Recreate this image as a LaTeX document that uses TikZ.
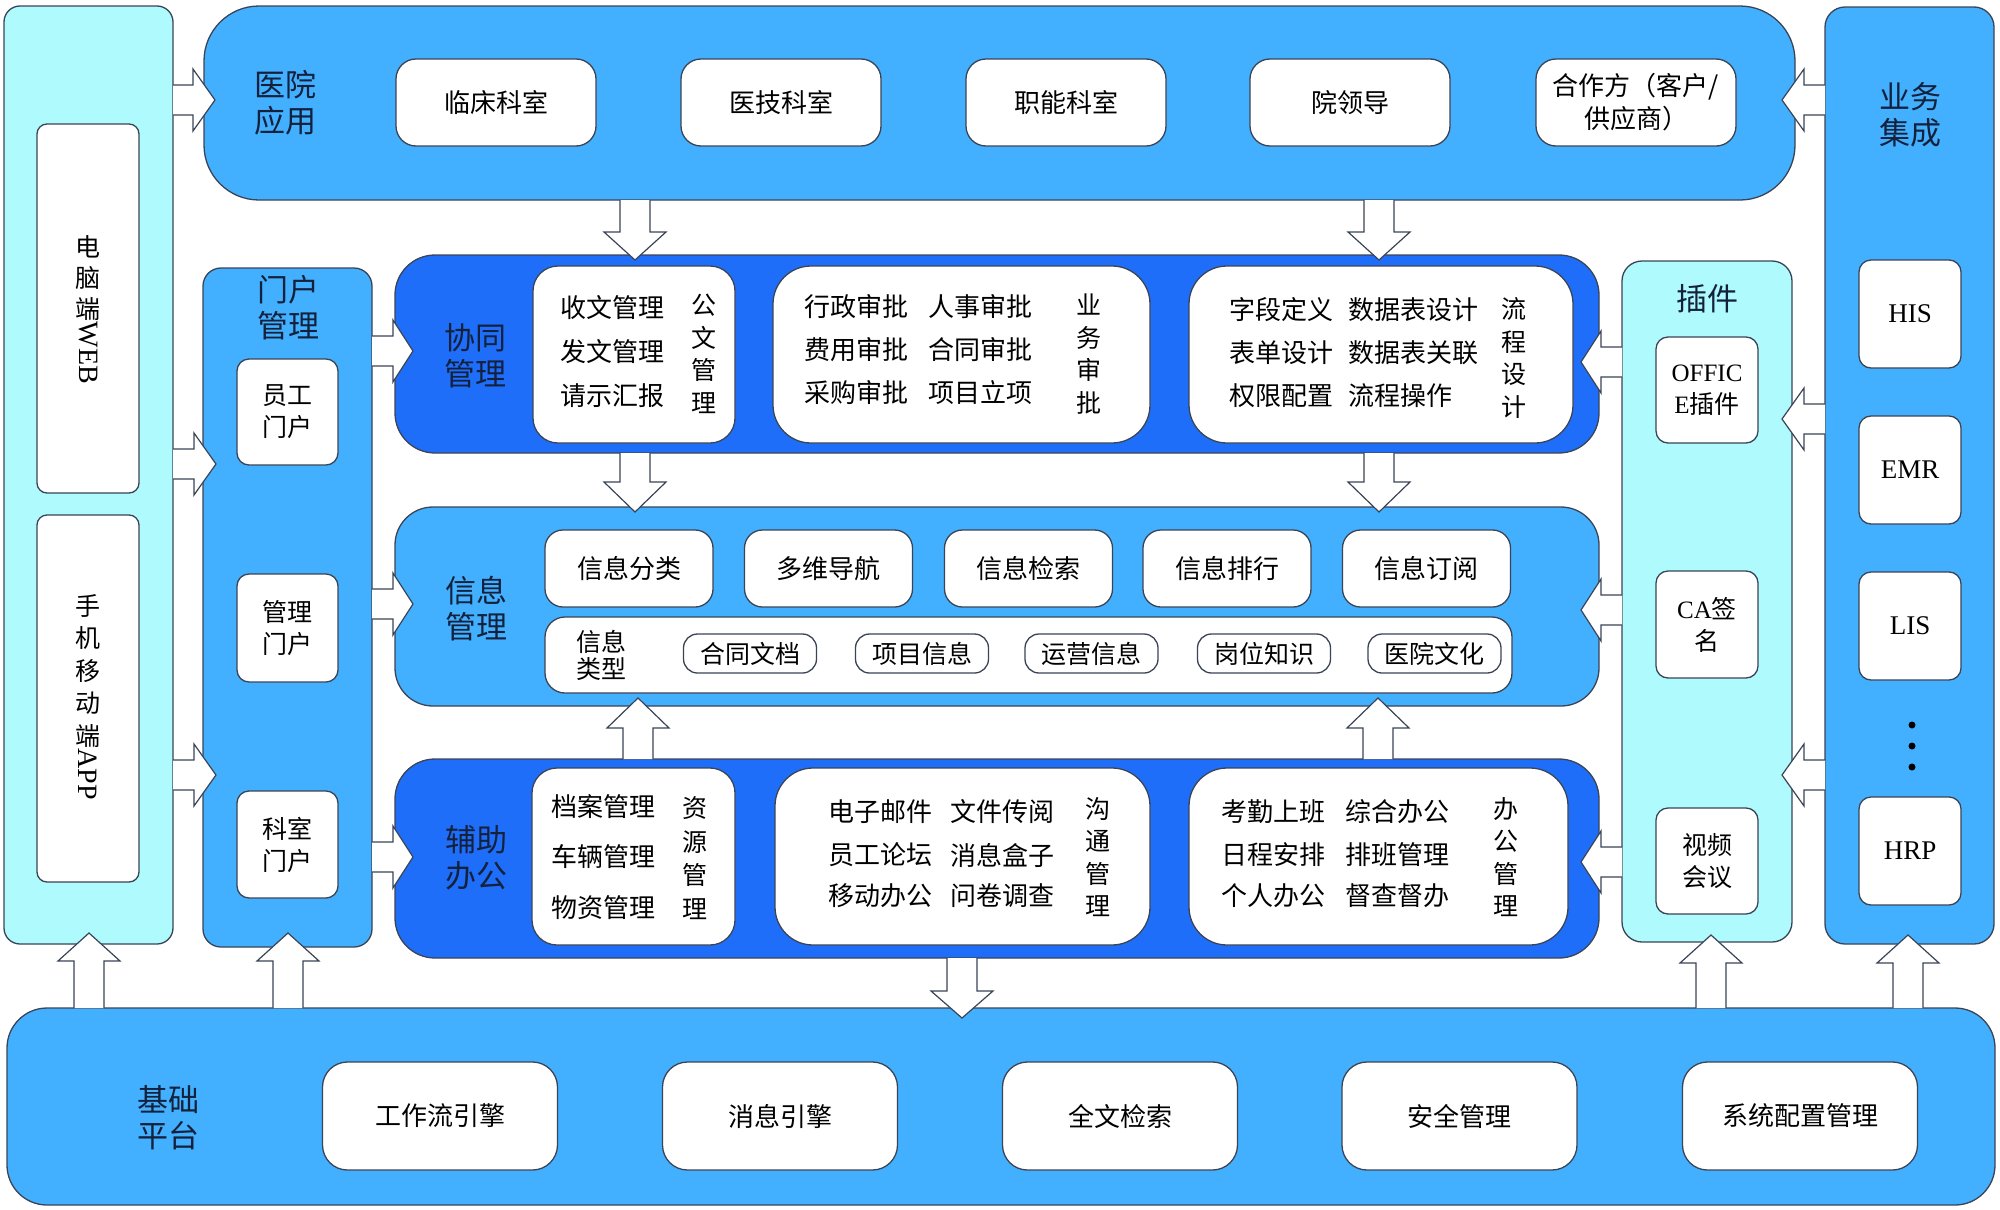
\documentclass[tikz,border=0pt]{standalone}
\usepackage{fontspec}
\setmainfont{Noto Sans CJK SC}
\newfontfamily\lat{Liberation Serif}
\usetikzlibrary{calc}
\definecolor{cyanl}{HTML}{AEFAFC}
\definecolor{midb}{HTML}{42B0FE}
\definecolor{darkb}{HTML}{1F6EFA}
\definecolor{linec}{HTML}{3A4456}
\definecolor{labc}{HTML}{14213D}
\newcommand\bigf{\fontsize{31}{36}\selectfont}
\newcommand\subf{\fontsize{26}{33}\selectfont}
\newcommand\smf{\fontsize{25}{32}\selectfont}
\newcommand\vtf{\fontsize{25}{32.5}\selectfont}
% block arrows: #1 tail centre, #2 total length, #3 head length
\newcommand\arrR[3]{\draw[barrow] #1 ++(0,-15) -- ++({#2-#3},0) -- ++(0,-16) -- ++(#3,31) -- ++(-#3,31) -- ++(0,-16) -- ++({#3-#2},0);}
\newcommand\arrL[3]{\draw[barrow] #1 ++(0,-15) -- ++({#3-#2},0) -- ++(0,-16) -- ++(-#3,31) -- ++(#3,31) -- ++(0,-16) -- ++({#2-#3},0);}
\newcommand\arrD[3]{\draw[barrow] #1 ++(-15,0) -- ++(0,{#2-#3}) -- ++(-16,0) -- ++(31,#3) -- ++(31,-#3) -- ++(-16,0) -- ++(0,{#3-#2});}
\newcommand\arrU[3]{\draw[barrow] #1 ++(-15,0) -- ++(0,{#3-#2}) -- ++(-16,0) -- ++(31,-#3) -- ++(31,#3) -- ++(-16,0) -- ++(0,{#2-#3});}
\begin{document}
\begin{tikzpicture}[x=1pt,y=-1pt,
  cbox/.style={draw=linec, line width=1.3pt, inner sep=0pt, outer sep=0pt, rectangle, rounded corners=#1},
  wbox/.style={cbox=#1, fill=white, align=center, font=\smf, text=black},
  lab/.style={inner sep=0pt, align=center, font=\bigf, text=labc},
  rowt/.style={inner sep=0pt, anchor=west, font=\subf, text=black},
  vt/.style={inner sep=0pt, align=center, font=\vtf, text=black},
  barrow/.style={draw=linec, line width=1.2pt, fill=white, line join=miter}]
\useasboundingbox (0,0) rectangle (2000,1210);

% ---------- left column: clients
\node[cbox=16, fill=cyanl, minimum width=169, minimum height=938] (lc) at (88.5,475) {};
\node[wbox=10, minimum width=102, minimum height=369] (web) at (88,308.5) {};
\node[wbox=10, minimum width=102, minimum height=367] (app) at (88,698.5) {};
\node[vt, font=\fontsize{25}{31}\selectfont] (webt) at (88,310) {电\\脑\\端\\\rotatebox[origin=c]{-90}{\lat\fontsize{28}{28}\selectfont WEB}};
\node[vt, font=\fontsize{25}{32.5}\selectfont] (appt) at (88,697) {手\\机\\移\\动\\端\\\rotatebox[origin=c]{-90}{\lat\fontsize{28}{28}\selectfont APP}};

% ---------- portal column
\node[cbox=18, fill=midb, minimum width=169, minimum height=679] (mh) at (287.5,607.5) {};
\node[lab] (mht) at (288,308) {门户\\管理};
\node[wbox=12, minimum width=101, minimum height=106] (yg) at (287.5,412) {员工\\门户};
\node[wbox=12, minimum width=101, minimum height=108] (gg) at (287.5,628) {管理\\门户};
\node[wbox=12, minimum width=101, minimum height=107] (kg) at (287.5,844.5) {科室\\门户};

% ---------- hospital applications
\node[cbox=55, fill=midb, minimum width=1591, minimum height=194] (hosp) at (999.5,103) {};
\node[lab] (hospt) at (285,103) {医院\\应用};
\node[wbox=20, minimum width=200, minimum height=87, font=\subf] (h1) at (496,102.5) {临床科室};
\node[wbox=20, minimum width=200, minimum height=87, font=\subf] (h2) at (781,102.5) {医技科室};
\node[wbox=20, minimum width=200, minimum height=87, font=\subf] (h3) at (1066,102.5) {职能科室};
\node[wbox=20, minimum width=200, minimum height=87, font=\subf] (h4) at (1350,102.5) {院领导};
\node[wbox=20, minimum width=200, minimum height=87, font=\subf] (h5) at (1636,102.5) {合作方（客户/\\供应商）};

% ---------- business integration
\node[cbox=20, fill=midb, minimum width=169, minimum height=937] (yw) at (1909.5,475.5) {};
\node[lab] (ywt) at (1910,115) {业务\\集成};
\node[wbox=12, minimum width=102, minimum height=108, font=\lat\fontsize{27}{30}\selectfont] (his) at (1910,314) {HIS};
\node[wbox=12, minimum width=102, minimum height=108, font=\lat\fontsize{27}{30}\selectfont] (emr) at (1910,470) {EMR};
\node[wbox=12, minimum width=102, minimum height=108, font=\lat\fontsize{27}{30}\selectfont] (lis) at (1910,626) {LIS};
\node[wbox=12, minimum width=102, minimum height=108, font=\lat\fontsize{27}{30}\selectfont] (hrp) at (1910,851) {HRP};
\fill[black] (1912,725) circle (3.5) (1912,746) circle (3.5) (1912,767) circle (3.5);

% ---------- plug-ins
\node[cbox=20, fill=cyanl, minimum width=170, minimum height=681] (cj) at (1707,601.5) {};
\node[lab] (cjt) at (1707,299) {插件};
\node[wbox=12, minimum width=102, minimum height=106] (off) at (1707,390) {{\lat OFFIC}\\{\lat E}插件};
\node[wbox=12, minimum width=102, minimum height=107] (ca) at (1707,624.5) {{\lat CA}签\\名};
\node[wbox=12, minimum width=102, minimum height=106] (sp) at (1707,861) {视频\\会议};

% ---------- collaboration management
\node[cbox=40, fill=darkb, minimum width=1204, minimum height=198] (xt) at (997,354) {};
\node[lab] (xtt) at (475,356) {协同\\管理};
\node[wbox=25, minimum width=202, minimum height=177] (xb1) at (634,354.5) {};
\node[wbox=38, minimum width=377, minimum height=177] (xb2) at (961.5,354.5) {};
\node[wbox=38, minimum width=384, minimum height=177] (xb3) at (1381,354.5) {};
\node[rowt] (x11) at (560,308) {收文管理};
\node[rowt] (x12) at (560,352) {发文管理};
\node[rowt] (x13) at (560,396) {请示汇报};
\node[vt] (x1v) at (704,354) {公\\文\\管\\理};
\node[rowt] (x21) at (804,307) {行政审批};
\node[rowt] (x22) at (928,307) {人事审批};
\node[rowt] (x23) at (804,350) {费用审批};
\node[rowt] (x24) at (928,350) {合同审批};
\node[rowt] (x25) at (804,393) {采购审批};
\node[rowt] (x26) at (928,393) {项目立项};
\node[vt] (x2v) at (1089,354) {业\\务\\审\\批};
\node[rowt] (x31) at (1229,310) {字段定义};
\node[rowt] (x32) at (1348,310) {数据表设计};
\node[rowt] (x33) at (1229,353) {表单设计};
\node[rowt] (x34) at (1348,353) {数据表关联};
\node[rowt] (x35) at (1229,396) {权限配置};
\node[rowt] (x36) at (1348,396) {流程操作};
\node[vt] (x3v) at (1514,358) {流\\程\\设\\计};

% ---------- information management
\node[cbox=38, fill=midb, minimum width=1204, minimum height=199] (xx) at (997,606.5) {};
\node[lab] (xxt) at (476,609) {信息\\管理};
\node[wbox=18, minimum width=168, minimum height=77, font=\subf] (i1) at (629,568.5) {信息分类};
\node[wbox=18, minimum width=168, minimum height=77, font=\subf] (i2) at (828.5,568.5) {多维导航};
\node[wbox=18, minimum width=168, minimum height=77, font=\subf] (i3) at (1028.5,568.5) {信息检索};
\node[wbox=18, minimum width=168, minimum height=77, font=\subf] (i4) at (1227,568.5) {信息排行};
\node[wbox=18, minimum width=168, minimum height=77, font=\subf] (i5) at (1426.5,568.5) {信息订阅};
\node[wbox=20, minimum width=967, minimum height=76] (iw) at (1028.5,655) {};
\node[vt, font=\fontsize{25}{27}\selectfont] (iwt) at (601,655) {信息\\类型};
\node[wbox=14, minimum width=133, minimum height=39] (p1) at (750,653.5) {合同文档};
\node[wbox=14, minimum width=133, minimum height=39] (p2) at (922,653.5) {项目信息};
\node[wbox=14, minimum width=133, minimum height=39] (p3) at (1091.5,653.5) {运营信息};
\node[wbox=14, minimum width=133, minimum height=39] (p4) at (1264,653.5) {岗位知识};
\node[wbox=14, minimum width=133, minimum height=39] (p5) at (1434.5,653.5) {医院文化};

% ---------- office assistance
\node[cbox=40, fill=darkb, minimum width=1204, minimum height=199] (fz) at (997,858.5) {};
\node[lab] (fzt) at (476,858) {辅助\\办公};
\node[wbox=25, minimum width=203, minimum height=177] (fb1) at (633.5,856.5) {};
\node[wbox=38, minimum width=375, minimum height=177] (fb2) at (962.5,856.5) {};
\node[wbox=38, minimum width=379, minimum height=177] (fb3) at (1378.5,856.5) {};
\node[rowt] (f11) at (551,807) {档案管理};
\node[rowt] (f12) at (551,857) {车辆管理};
\node[rowt] (f13) at (551,908) {物资管理};
\node[vt, font=\fontsize{25}{33.5}\selectfont] (f1v) at (695,858) {资\\源\\管\\理};
\node[rowt] (f21) at (828,812) {电子邮件};
\node[rowt] (f22) at (950,812) {文件传阅};
\node[rowt] (f23) at (828,855) {员工论坛};
\node[rowt] (f24) at (950,855) {消息盒子};
\node[rowt] (f25) at (828,896) {移动办公};
\node[rowt] (f26) at (950,896) {问卷调查};
\node[vt] (f2v) at (1098,857) {沟\\通\\管\\理};
\node[rowt] (f31) at (1221,812) {考勤上班};
\node[rowt] (f32) at (1345,812) {综合办公};
\node[rowt] (f33) at (1221,855) {日程安排};
\node[rowt] (f34) at (1345,855) {排班管理};
\node[rowt] (f35) at (1221,896) {个人办公};
\node[rowt] (f36) at (1345,896) {督查督办};
\node[vt] (f3v) at (1506,857) {办\\公\\管\\理};

% ---------- base platform
\node[cbox=40, fill=midb, minimum width=1988, minimum height=197] (jc) at (1001,1106.5) {};
\node[lab] (jct) at (168,1118) {基础\\平台};
\node[wbox=25, minimum width=235, minimum height=108, font=\subf] (j1) at (440,1116) {工作流引擎};
\node[wbox=25, minimum width=235, minimum height=108, font=\subf] (j2) at (780,1116) {消息引擎};
\node[wbox=25, minimum width=235, minimum height=108, font=\subf] (j3) at (1120,1116) {全文检索};
\node[wbox=25, minimum width=235, minimum height=108, font=\subf] (j4) at (1459.5,1116) {安全管理};
\node[wbox=25, minimum width=235, minimum height=108, font=\subf] (j5) at (1800,1116) {系统配置管理};

% ---------- block arrows (tails on the source boxes)
\coordinate (r1) at (lc.east |- 0,100);
\coordinate (r2) at (lc.east |- 0,464);
\coordinate (r3) at (lc.east |- 0,775);
\coordinate (r4) at (mh.east |- 0,351);
\coordinate (r5) at (mh.east |- 0,604);
\coordinate (r6) at (mh.east |- 0,857);
\arrR{(r1)}{42}{22}
\arrR{(r2)}{43}{22}
\arrR{(r3)}{43}{22}
\arrR{(r4)}{41}{20}
\arrR{(r5)}{41}{20}
\arrR{(r6)}{41}{20}
\coordinate (l1) at (yw.west |- 0,100);
\coordinate (l2) at (yw.west |- 0,419);
\coordinate (l3) at (yw.west |- 0,775);
\coordinate (l4) at (cj.west |- 0,362);
\coordinate (l5) at (cj.west |- 0,610);
\coordinate (l6) at (cj.west |- 0,862);
\arrL{(l1)}{43}{22}
\arrL{(l2)}{43}{22}
\arrL{(l3)}{43}{22}
\arrL{(l4)}{41}{20}
\arrL{(l5)}{41}{20}
\arrL{(l6)}{41}{20}
\coordinate (d1) at (635,0 |- hosp.south);
\coordinate (d2) at (1379,0 |- hosp.south);
\coordinate (d3) at (635,0 |- xt.south);
\coordinate (d4) at (1379,0 |- xt.south);
\coordinate (d5) at (962,0 |- fz.south);
\arrD{(d1)}{60}{28}
\arrD{(d2)}{60}{28}
\arrD{(d3)}{59}{30}
\arrD{(d4)}{59}{30}
\arrD{(d5)}{60}{27}
\coordinate (u1) at (89,0 |- jc.north);
\coordinate (u2) at (288,0 |- jc.north);
\coordinate (u3) at (1711,0 |- jc.north);
\coordinate (u4) at (1908,0 |- jc.north);
\coordinate (u5) at (638,0 |- fz.north);
\coordinate (u6) at (1378,0 |- fz.north);
\arrU{(u1)}{75}{28}
\arrU{(u2)}{75}{28}
\arrU{(u3)}{73}{28}
\arrU{(u4)}{73}{28}
\arrU{(u5)}{61}{30}
\arrU{(u6)}{61}{30}
\end{tikzpicture}
\end{document}
